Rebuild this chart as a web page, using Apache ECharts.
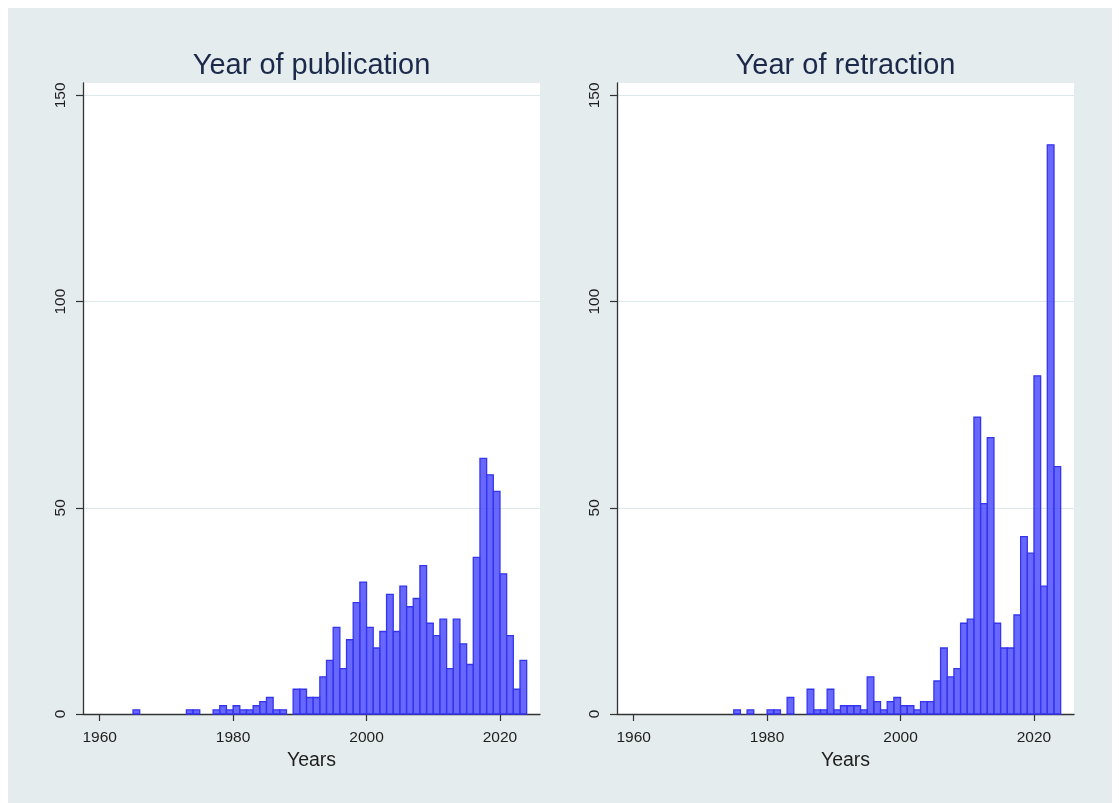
<!DOCTYPE html>
<html>
<head>
<meta charset="utf-8">
<title>Year of publication / Year of retraction</title>
<script src="https://cdn.jsdelivr.net/npm/echarts@6/dist/echarts.min.js"></script>
<style>
  html, body { margin: 0; padding: 0; background: #ffffff; }
  #frame { position: absolute; left: 8px; top: 8px; width: 1104px; height: 795px; background: #e5eced; }
  #chart { position: absolute; left: 0; top: 0; width: 1119px; height: 803px; }
</style>
</head>
<body>
<div id="frame"></div>
<div id="chart"></div>
<script>
// Histogram bins: one-year bins, each starting at the listed year
const binStart = [
  1965, 1966, 1967, 1968, 1969, 1970, 1971, 1972, 1973, 1974,
  1975, 1976, 1977, 1978, 1979, 1980, 1981, 1982, 1983, 1984,
  1985, 1986, 1987, 1988, 1989, 1990, 1991, 1992, 1993, 1994,
  1995, 1996, 1997, 1998, 1999, 2000, 2001, 2002, 2003, 2004,
  2005, 2006, 2007, 2008, 2009, 2010, 2011, 2012, 2013, 2014,
  2015, 2016, 2017, 2018, 2019, 2020, 2021, 2022, 2023
];
const BIN_WIDTH = 1;

// Frequency of papers by year of publication
const publicationCounts = [
  1, 0, 0, 0, 0, 0, 0, 0, 1, 1,
  0, 0, 1, 2, 1, 2, 1, 1, 2, 3,
  4, 1, 1, 0, 6, 6, 4, 4, 9, 13,
  21, 11, 18, 27, 32, 21, 16, 20, 29, 20,
  31, 26, 28, 36, 22, 19, 23, 11, 23, 17,
  12, 38, 62, 58, 54, 34, 19, 6, 13
];

// Frequency of papers by year of retraction
const retractionCounts = [
  0, 0, 0, 0, 0, 0, 0, 0, 0, 0,
  1, 0, 1, 0, 0, 1, 1, 0, 4, 0,
  0, 6, 1, 1, 6, 1, 2, 2, 2, 1,
  9, 3, 1, 3, 4, 2, 2, 1, 3, 3,
  8, 16, 9, 11, 22, 23, 72, 51, 67, 22,
  16, 16, 24, 43, 39, 82, 31, 138, 60
];

const panelTitles = ['Year of publication', 'Year of retraction'];
const xAxisTitle = 'Years';
const xTickValues = [1960, 1980, 2000, 2020];
const yTickValues = [0, 50, 100, 150];

const FONT = '"Liberation Sans", Arial, Helvetica, sans-serif';
const BAR_FILL = 'rgba(66, 66, 255, 0.8)';
const BAR_EDGE = '#3535ee';

function toData(counts) {
  return binStart.map((y, i) => [y, counts[i]]);
}

function renderBin(params, api) {
  const x0 = api.value(0);
  const n = api.value(1);
  if (!n) return null;
  const topLeft = api.coord([x0, n]);
  const bottomRight = api.coord([x0 + BIN_WIDTH, 0]);
  return {
    type: 'rect',
    shape: {
      x: topLeft[0],
      y: topLeft[1],
      width: bottomRight[0] - topLeft[0],
      height: bottomRight[1] - topLeft[1]
    },
    style: { fill: BAR_FILL, stroke: BAR_EDGE, lineWidth: 1.3 }
  };
}

const grids = [
  { left: 83, right: 579, top: 83, bottom: 89 },
  { left: 617, right: 45, top: 83, bottom: 89 }
];

function makeXAxis(gridIndex) {
  return {
    type: 'value',
    gridIndex: gridIndex,
    min: 1957.5,
    max: 2026,
    name: xAxisTitle,
    nameLocation: 'middle',
    nameGap: 34,
    nameTextStyle: { fontFamily: FONT, fontSize: 19.5, color: '#1e1e1e' },
    axisLine: { show: true, onZero: false, lineStyle: { color: '#333333', width: 1.3 } },
    axisTick: { show: true, length: 7, customValues: xTickValues, lineStyle: { color: '#333333', width: 1.2 } },
    axisLabel: {
      customValues: xTickValues,
      formatter: v => String(v),
      fontFamily: FONT, fontSize: 15.5, color: '#1e1e1e', margin: 16
    },
    splitLine: { show: false }
  };
}

function makeYAxis(gridIndex) {
  return {
    type: 'value',
    gridIndex: gridIndex,
    min: 0,
    max: 153,
    interval: 50,
    axisLine: { show: true, onZero: false, lineStyle: { color: '#333333', width: 1.3 } },
    axisTick: { show: true, length: 7, customValues: yTickValues, lineStyle: { color: '#333333', width: 1.2 } },
    axisLabel: {
      customValues: yTickValues,
      formatter: v => String(v),
      rotate: 90, fontFamily: FONT, fontSize: 15.5, color: '#1e1e1e', margin: 14
    },
    splitLine: { show: true, lineStyle: { color: '#dde8eb', width: 1.2 } }
  };
}

const chart = echarts.init(document.getElementById('chart'), null, { renderer: 'canvas' });

chart.setOption({
  backgroundColor: 'transparent',
  animation: false,
  title: panelTitles.map((t, i) => ({
    text: t,
    left: i === 0 ? 306.5 : 840.5,
    top: 46,
    textAlign: 'center',
    textStyle: { fontFamily: FONT, fontSize: 29, fontWeight: 'normal', color: '#1b2a4a' }
  })),
  grid: grids.map(g => Object.assign({ show: true, backgroundColor: '#ffffff', borderWidth: 0 }, g)),
  xAxis: [makeXAxis(0), makeXAxis(1)],
  yAxis: [makeYAxis(0), makeYAxis(1)],
  series: [
    {
      name: panelTitles[0],
      type: 'custom',
      xAxisIndex: 0,
      yAxisIndex: 0,
      renderItem: renderBin,
      encode: { x: 0, y: 1 },
      data: toData(publicationCounts)
    },
    {
      name: panelTitles[1],
      type: 'custom',
      xAxisIndex: 1,
      yAxisIndex: 1,
      renderItem: renderBin,
      encode: { x: 0, y: 1 },
      data: toData(retractionCounts)
    }
  ]
});
</script>
</body>
</html>
